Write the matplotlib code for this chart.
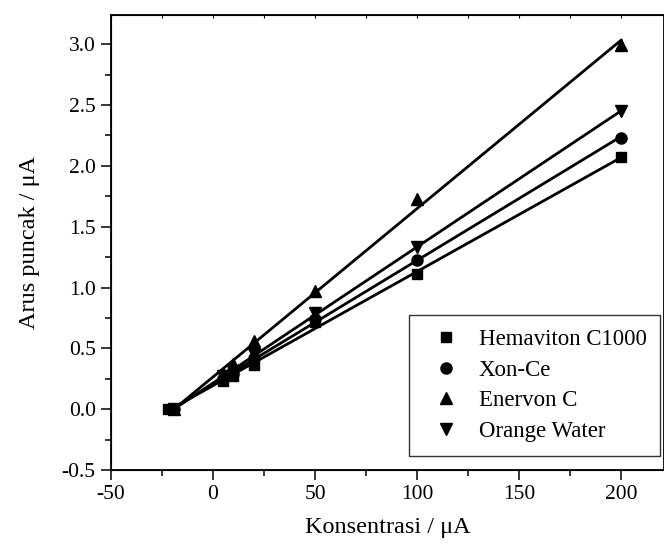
import matplotlib
matplotlib.use("Agg")
import matplotlib.pyplot as plt
import numpy as np
import matplotlib as mpl
from matplotlib.ticker import MultipleLocator

mpl.rcParams['font.family'] = ['Liberation Serif', 'DejaVu Serif']
mpl.rcParams['axes.unicode_minus'] = False

# Data
konsentrasi = [5, 10, 20, 50, 100, 200]

hemaviton_x0 = -22
hemaviton = [0.23, 0.27, 0.36, 0.72, 1.11, 2.07]

xonce_x0 = -19
xonce = [0.25, 0.29, 0.42, 0.74, 1.23, 2.23]

enervon_x0 = -19
enervon = [0.30, 0.37, 0.56, 0.97, 1.73, 2.99]

orange_x0 = -19
orange = [0.27, 0.31, 0.45, 0.79, 1.33, 2.45]

series = [
    ("Hemaviton C1000", hemaviton_x0, hemaviton, "s", 7.5),
    ("Xon-Ce", xonce_x0, xonce, "o", 8),
    ("Enervon C", enervon_x0, enervon, "^", 9),
    ("Orange Water", orange_x0, orange, "v", 9),
]

fig = plt.figure(figsize=(6.64, 5.49), dpi=100)
ax = fig.add_axes([111/664, (549-470)/549, 1 - 111/664, (470-15)/549])

for name, x0, ys, mk, ms in series:
    xs = np.array([x0] + konsentrasi, dtype=float)
    yv = np.array([0.0] + ys)
    k, b = np.polyfit(xs, yv, 1)
    xl = np.array([xs.min(), xs.max()])
    ax.plot(xl, k*xl + b, color='black', lw=2.0)
    ax.plot(xs, yv, linestyle='none', marker=mk, markersize=ms,
            color='black', label=name)

ax.set_xlim(-50, 221)
ax.set_ylim(-0.5, 3.24)
ax.xaxis.set_major_locator(MultipleLocator(50))
ax.xaxis.set_minor_locator(MultipleLocator(25))
ax.yaxis.set_major_locator(MultipleLocator(0.5))
ax.yaxis.set_minor_locator(MultipleLocator(0.25))
ax.yaxis.set_major_formatter(mpl.ticker.FuncFormatter(lambda v, p: f"{v:.1f}"))

ax.tick_params(which='major', direction='out', length=7, width=1.1, labelsize=15.5,
               top=False, right=False, pad=4)
ax.tick_params(which='minor', direction='out', length=4, width=1.1, top=False, right=False)
for sp in ax.spines.values():
    sp.set_linewidth(1.3)

# tiny inward ticks on the top spine
top = ax.twiny()
top.set_xlim(ax.get_xlim())
top.xaxis.set_major_locator(MultipleLocator(50))
top.xaxis.set_minor_locator(MultipleLocator(25))
top.tick_params(which='both', direction='in', length=2, width=0.8, labeltop=False)
top.spines['right'].set_visible(False)

ax.set_xlabel("Konsentrasi / \u03bcA", fontsize=17.5, labelpad=9)
ax.set_ylabel("Arus puncak / \u03bcA", fontsize=17.5, labelpad=16)

leg = ax.legend(loc='lower right', bbox_to_anchor=(0.993, 0.031), fontsize=16.5,
                frameon=True, fancybox=False, edgecolor='black', borderpad=0.6,
                handletextpad=0.35, labelspacing=0.42, handlelength=2.1,
                borderaxespad=0)
leg.get_frame().set_linewidth(1.0)

fig.savefig("out.png", dpi=100)
